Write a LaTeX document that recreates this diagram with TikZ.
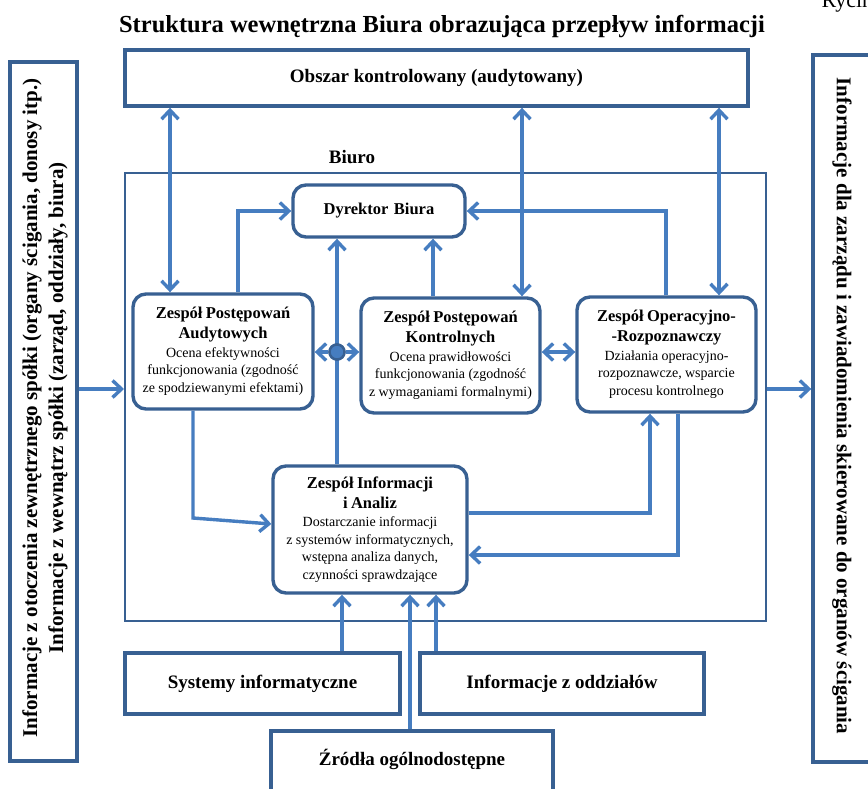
\documentclass[tikz,border=0pt]{standalone}
\usepackage{fontspec}
\setmainfont{Liberation Serif}
\usetikzlibrary{arrows.meta}
\usetikzlibrary{positioning}
\definecolor{boxline}{RGB}{56,96,146}
\definecolor{linkblue}{RGB}{70,125,192}
\newcommand{\teamtext}[2]{{\fontsize{16.5}{20}\selectfont\bfseries #1\par}\vspace{1pt}{\fontsize{14}{17.5}\selectfont #2\par}}
\tikzset{
  flatbox/.style={draw=boxline, line width=3.4pt, fill=white, inner sep=0pt, align=center},
  team/.style={flatbox, rounded corners=13pt, text width=172pt},
  office/.style={draw=boxline, line width=2pt, inner sep=0pt},
  heading/.style={font=\fontsize{19}{22}\selectfont\bfseries},
  sidetext/.style={align=center, font=\fontsize{21}{26}\selectfont\bfseries},
  link/.style={draw=linkblue, line width=3.4pt, -{Straight Barb[length=9pt,width=17pt]}},
  twoway/.style={link, {Straight Barb[length=9pt,width=17pt]}-{Straight Barb[length=9pt,width=17pt]}},
  hub/.style={circle, fill=linkblue, draw=boxline, line width=2.4pt, minimum size=15pt, inner sep=0pt}
}

\begin{document}
\begin{tikzpicture}[x=1pt, y=-1pt]
\useasboundingbox (0,0) rectangle (868,788);

\node[anchor=base west, font=\fontsize{22}{26}\selectfont] (ryc) at (818,7) {Rycina};
\node[font=\fontsize{24.5}{28}\selectfont\bfseries] (title) at (442,27) {Struktura wewnętrzna Biura obrazująca przepływ informacji};

% outer boxes
\node[flatbox, heading, minimum width=623pt, minimum height=56pt] (obszar) at (436.5,78) {Obszar kontrolowany (audytowany)};
\node[office, minimum width=641pt, minimum height=448pt] (biuro) at (445.5,397) {};
\node[heading] (biurolabel) at (352,157) {Biuro};

\node[flatbox, minimum width=67pt, minimum height=699pt] (zewn) at (43.5,411.5) {};
\node[sidetext, rotate=90] (zewntext) at (45,408) {Informacje z otoczenia zewnętrznego spółki (organy ścigania, donosy itp.)\\Informacje z wewnątrz spółki (zarząd, oddziały, biura)};
\node[flatbox, minimum width=80pt, minimum height=707pt] (zarzad) at (853,408.5) {};
\node[sidetext, rotate=-90] (zarzadtext) at (842,406) {Informacje dla zarządu i zawiadomienia skierowane do organów ścigania};

% teams
\node[team, font=\fontsize{16.5}{20}\selectfont\bfseries, minimum width=164pt, minimum height=52pt] (dyrektor) at (379,211) {Dyrektor Biura};
\node[team, minimum width=180pt, minimum height=115pt] (audyt) at (223,351.5)
  {\teamtext{Zespół Postępowań\\Audytowych}{Ocena efektywności\\funkcjonowania (zgodność\\ze spodziewanymi efektami)}};
\node[team, minimum width=179pt, minimum height=115pt] (kontrol) at (450.5,355.5)
  {\teamtext{Zespół Postępowań\\Kontrolnych}{Ocena prawidłowości\\funkcjonowania (zgodność\\z wymaganiami formalnymi)}};
\node[team, minimum width=179pt, minimum height=115pt] (operac) at (666.5,354.5)
  {\teamtext{Zespół Operacyjno-\\-Rozpoznawczy}{Działania operacyjno-\\rozpoznawcze, wsparcie\\procesu kontrolnego}};
\node[team, minimum width=194pt, minimum height=127pt] (info) at (370,529.5)
  {\teamtext{Zespół Informacji\\i Analiz}{Dostarczanie informacji\\z systemów informatycznych,\\wstępna analiza danych,\\czynności sprawdzające}};

% sources
\node[flatbox, heading, minimum width=275pt, minimum height=61pt] (systemy) at (262.5,683.5) {Systemy informatyczne};
\node[flatbox, heading, minimum width=284pt, minimum height=61pt] (oddzialy) at (562,683.5) {Informacje z oddziałów};
\node[flatbox, minimum width=282pt, minimum height=80pt] (zrodla) at (412,771) {};
\node[heading] (zrodlatext) at (412,759) {Źródła ogólnodostępne};

% connectors
\draw[twoway] (170,0 |- obszar.south) -- (170,0 |- audyt.north);
\draw[twoway] (522,0 |- obszar.south) -- (522,0 |- kontrol.north);
\draw[twoway] (719,0 |- obszar.south) -- (719,0 |- operac.north);
\draw[link] (238,0 |- audyt.north) |- (dyrektor.west);
\draw[link] (666,0 |- operac.north) |- (dyrektor.east);
\draw[link] (433,0 |- kontrol.north) -- (433,0 |- dyrektor.south);
\draw[link] (337,0 |- info.north) -- (337,0 |- dyrektor.south);
\node[hub] (hub) at (337,352) {};
\draw[link] (hub) -- (audyt.east |- hub);
\draw[link] (hub) -- (kontrol.west |- hub);
\node[hub] at (hub) {};
\draw[twoway] (kontrol.east |- 0,352) -- (operac.west |- 0,352);
\draw[link] (193,0 |- audyt.south) -- (193,518) -- (info.west |- 0,524);
\draw[link] (info.east |- 0,513) -| (650,0 |- operac.south);
\draw[link] (678,0 |- operac.south) |- (info.east |- 0,555);
\draw[link] (342,0 |- systemy.north) -- (342,0 |- info.south);
\draw[link] (410,0 |- zrodla.north) -- (410,0 |- info.south);
\draw[link] (436,0 |- oddzialy.north) -- (436,0 |- info.south);
\draw[link] (zewn.east |- 0,389) -- (biuro.west |- 0,389);
\draw[link] (biuro.east |- 0,389) -- (zarzad.west |- 0,389);
\end{tikzpicture}
\end{document}
